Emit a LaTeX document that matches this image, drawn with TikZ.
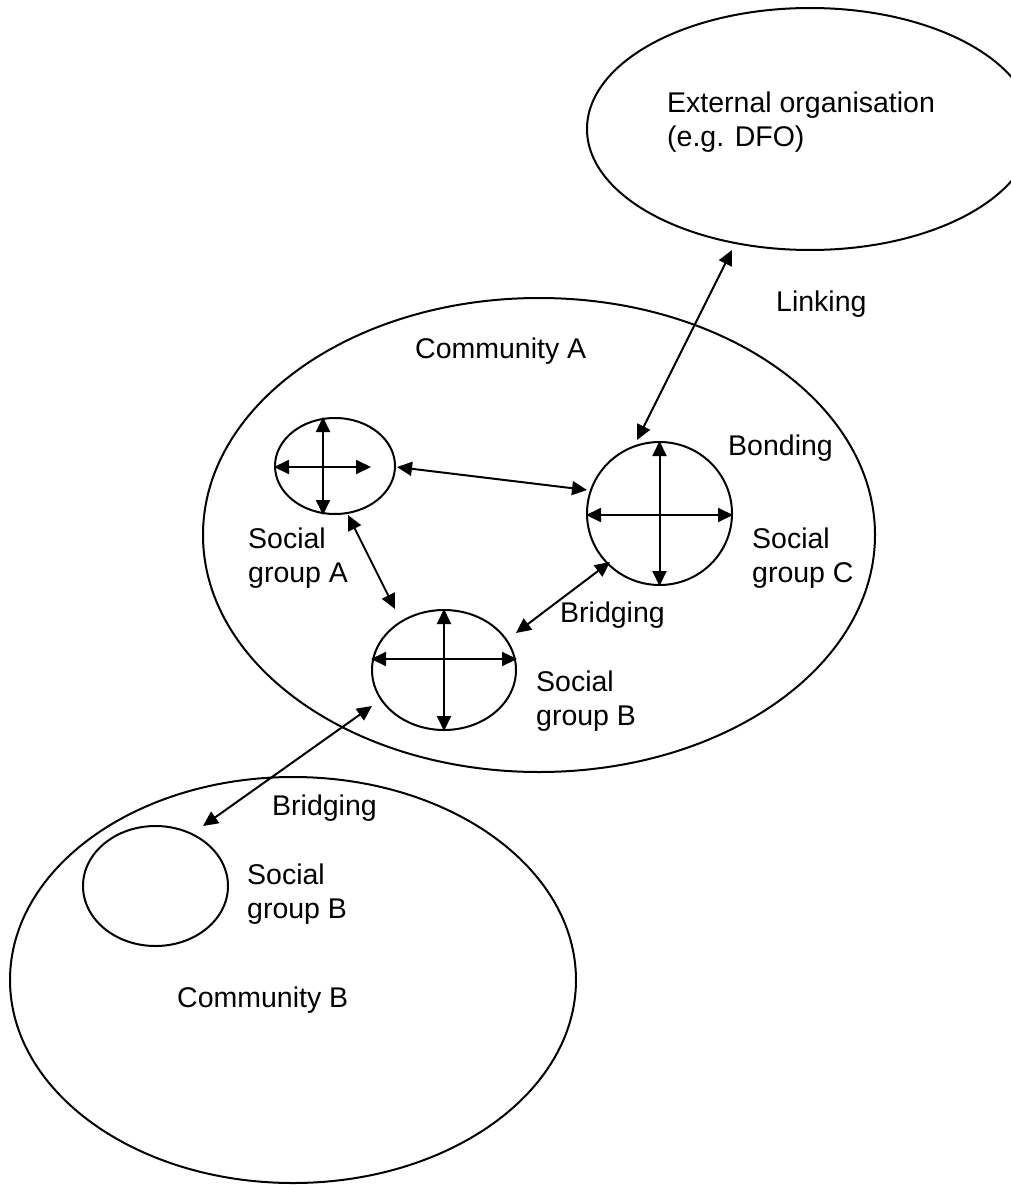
\documentclass[tikz,border=0pt]{standalone}
\usepackage{fontspec}
\setmainfont{Liberation Sans}
\usetikzlibrary{shapes.geometric,arrows.meta}
\begin{document}
\begin{tikzpicture}[x=1pt,y=-1pt,
  blob/.style={draw,ellipse,line width=2pt,inner sep=0pt},
  label/.style={anchor=base west,inner sep=0pt,align=left,
    font=\fontsize{28.5}{33.5}\selectfont},
  link/.style={line width=2pt,{Triangle[length=15pt,width=14pt]}-{Triangle[length=15pt,width=14pt]}}]
\useasboundingbox (0,0) rectangle (1011,1185);
\clip (0,0) rectangle (1011,1185);

% communities and organisation
\node[blob,minimum width=446pt,minimum height=242pt] (ext) at (810,129) {};
\node[blob,minimum width=672pt,minimum height=474pt] (comA) at (539,535) {};
\node[blob,minimum width=566pt,minimum height=406pt] (comB) at (293,980) {};

% social groups
\node[blob,minimum width=120pt,minimum height=96pt] (gA) at (335,466) {};
\node[blob,minimum width=145pt,minimum height=143pt] (gC) at (659.5,513.5) {};
\node[blob,minimum width=144pt,minimum height=120pt] (gB) at (444,670) {};
\node[blob,minimum width=145pt,minimum height=120pt] (gL) at (155.5,886) {};

% bonding inside the groups
\draw[link] ([xshift=-12pt]gA.north) -- ([xshift=-12pt]gA.south);
\draw[link] ([yshift=-1pt]gA.west) -- ([xshift=-25pt,yshift=-1pt]gA.east);
\draw[link] (gC.north) -- (gC.south);
\draw[link] ([yshift=-1.5pt]gC.west) -- ([yshift=-1.5pt]gC.east);
\draw[link] (gB.north) -- (gB.south);
\draw[link] ([yshift=11pt]gB.west) -- ([yshift=11pt]gB.east);

% links between groups
\draw[link] ([shift={(62,1)}]gA.center) -- ([shift={(-72.5,-23.5)}]gC.center);
\draw[link] ([shift={(13,49)}]gA.center) -- ([shift={(-49,-61)}]gB.center);
\draw[link] ([shift={(-49.5,48.5)}]gC.center) -- ([shift={(72,-37)}]gB.center);
\draw[link] ([shift={(-72,36)}]gB.center) -- ([shift={(47.5,-60)}]gL.center);
\draw[link] ([shift={(-78,121)}]ext.center) -- ([shift={(-22.5,-73.5)}]gC.center);

% labels (two-line labels are anchored on their second baseline)
\node[label] (tExt) at (667,146.5) {External organisation\\(e.g. DFO)};
\node[label] (tLink) at (776,311) {Linking};
\node[label] (tComA) at (415,358) {Community A};
\node[label] (tBond) at (728,455) {Bonding};
\node[label] (tgC) at (752,582) {Social\\group C};
\node[label] (tgA) at (248,582) {Social\\group A};
\node[label] (tBr1) at (560,622) {Bridging};
\node[label] (tgB) at (536,725) {Social\\group B};
\node[label] (tBr2) at (272,815) {Bridging};
\node[label] (tgL) at (247,918) {Social\\group B};
\node[label] (tComB) at (177,1007) {Community B};
\end{tikzpicture}
\end{document}
